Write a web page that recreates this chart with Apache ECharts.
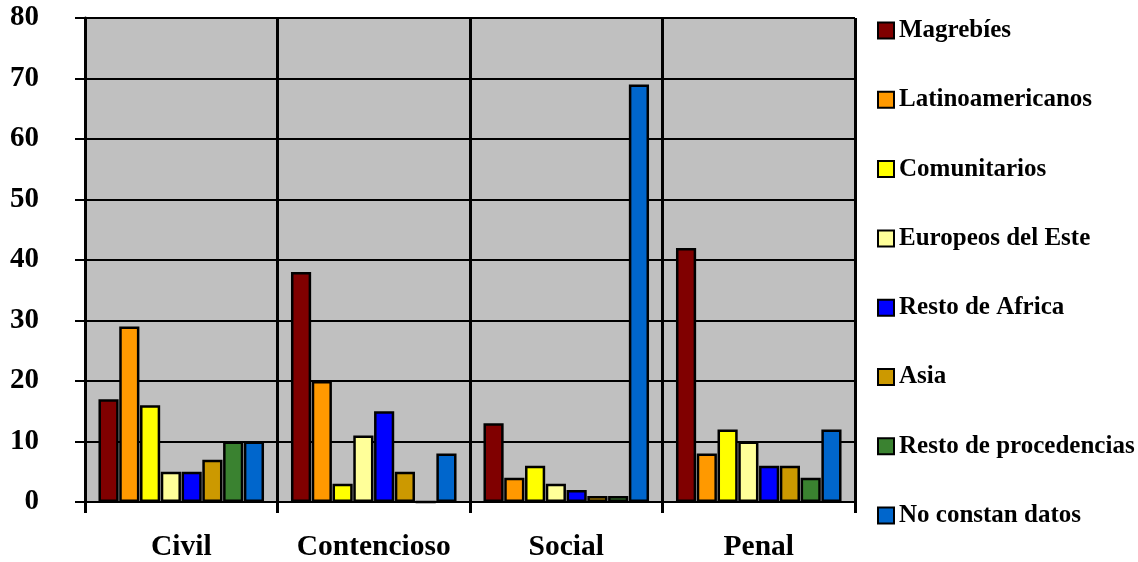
<!DOCTYPE html>
<html>
<head>
<meta charset="utf-8">
<script src="https://cdn.jsdelivr.net/npm/echarts@6/dist/echarts.min.js"></script>
<style>html,body{margin:0;padding:0;background:#fff}#c{width:1138px;height:562px}</style>
</head>
<body>
<div id="c"></div>
<script>
const categories = ['Civil', 'Contencioso', 'Social', 'Penal'];
const seriesNames = ['Magrebíes', 'Latinoamericanos', 'Comunitarios', 'Europeos del Este', 'Resto de Africa', 'Asia', 'Resto de procedencias', 'No constan datos'];
const magrebies = [17, 38, 13, 42];
const latinoamericanos = [29, 20, 4, 8];
const comunitarios = [16, 3, 6, 12];
const europeosEste = [5, 11, 3, 10];
const restoAfrica = [5, 15, 2, 6];
const asia = [7, 5, 1, 6];
const restoProcedencias = [10, 0, 1, 4];
const noConstan = [10, 8, 69, 12];
const yTicks = [0, 10, 20, 30, 40, 50, 60, 70, 80];

const seriesData = [magrebies, latinoamericanos, comunitarios, europeosEste, restoAfrica, asia, restoProcedencias, noConstan];
const colors = ['#800000', '#FF9900', '#FFFF00', '#FFFF99', '#0000FF', '#CC9900', '#3A8230', '#0066CC'];
const font = '"Liberation Serif", "Times New Roman", serif';

const chart = echarts.init(document.getElementById('c'), null, {renderer: 'canvas'});
chart.setOption({
  animation: false,
  color: colors,
  grid: {left: 85, right: 283, top: 18, bottom: 57, show: true, backgroundColor: '#C0C0C0', borderWidth: 0},
  legend: {
    orient: 'vertical', left: 877, top: 18, padding: 0,
    itemWidth: 16, itemHeight: 16, itemGap: 44.3,
    icon: 'rect',
    itemStyle: {borderColor: '#000', borderWidth: 2},
    textStyle: {fontFamily: font, fontWeight: 'bold', fontSize: 25, lineHeight: 25, color: '#000'},
    data: seriesNames
  },
  xAxis: {
    type: 'category', data: categories, boundaryGap: true,
    axisLine: {show: true, lineStyle: {color: '#000', width: 2}},
    axisTick: {show: true, length: 11, interval: 0, lineStyle: {color: '#000', width: 3}},
    axisLabel: {margin: 30, fontFamily: font, fontWeight: 'bold', fontSize: 29.5, color: '#000', interval: 0},
    splitLine: {show: true, interval: 0, lineStyle: {color: '#000', width: 3}}
  },
  yAxis: {
    type: 'value', min: 0, max: 80, interval: 10,
    axisLine: {show: true, lineStyle: {color: '#000', width: 3}},
    axisTick: {show: true, length: 10, lineStyle: {color: '#000', width: 2}},
    axisLabel: {margin: 46, fontFamily: font, fontWeight: 'bold', fontSize: 29, color: '#000',
      formatter: v => yTicks.includes(v) ? String(v) : ''},
    splitLine: {show: true, lineStyle: {color: '#000', width: 2}}
  },
  series: seriesNames.map((n, i) => ({
    name: n, type: 'bar', data: seriesData[i],
    barGap: '3%', barCategoryGap: '14%',
    itemStyle: {color: colors[i], borderColor: '#000', borderWidth: 2.5}
  }))
});
</script>
</body>
</html>
